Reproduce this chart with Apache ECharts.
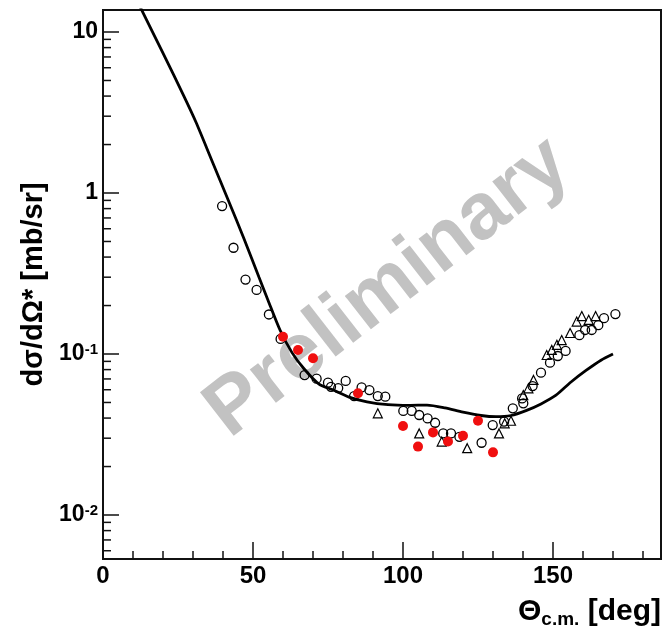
<!DOCTYPE html>
<html>
<head>
<meta charset="utf-8">
<script src="https://cdn.jsdelivr.net/npm/echarts@6/dist/echarts.min.js"></script>
<style>
  html, body { margin: 0; padding: 0; background: #fff; }
  #chart { width: 666px; height: 633px; }
</style>
</head>
<body>
<div id="chart"></div>
<script>
// theory curve
const curveX = [12, 20, 27, 31, 36, 42, 47, 52, 55, 59, 63, 67, 72, 77, 82, 88, 95, 102, 108, 114, 120, 126, 131, 136, 141, 146, 151, 156, 161, 166, 170]
const curveY = [14.8, 7.4, 3.98, 2.75, 1.64, 0.88, 0.52, 0.3, 0.216, 0.141, 0.102, 0.081, 0.065, 0.0595, 0.054, 0.0505, 0.0485, 0.048, 0.0482, 0.0463, 0.0435, 0.0415, 0.0408, 0.0415, 0.0445, 0.049, 0.0555, 0.067, 0.079, 0.0915, 0.1]

// open circles
const circX = [39.7, 43.5, 47.5, 51.2, 55.3, 59.2, 67.2, 71.2, 75, 76, 78.4, 80.9, 83.7, 86.2, 88.8, 91.6, 94.1, 100.1, 102.9, 105.4, 108.2, 110.7, 113.4, 116, 118.8, 126.2, 129.9, 133.7, 136.6, 139.7, 140.1, 143.2, 146, 149, 151.6, 154.2, 158.8, 160.7, 162.9, 165.1, 167, 170.8]
const circY = [0.83, 0.457, 0.29, 0.25, 0.176, 0.124, 0.074, 0.0703, 0.0664, 0.0625, 0.0614, 0.068, 0.0548, 0.062, 0.0597, 0.0548, 0.0543, 0.0443, 0.0443, 0.0418, 0.0398, 0.0374, 0.0321, 0.0321, 0.0306, 0.0281, 0.0362, 0.038, 0.046, 0.053, 0.0494, 0.0632, 0.0766, 0.0883, 0.0972, 0.1045, 0.131, 0.141, 0.141, 0.151, 0.167, 0.177]

// open triangles
const triX = [91.6, 105.4, 112.9, 121.4, 132, 133.9, 136, 140.1, 141.8, 143.5, 147.9, 149.6, 151.3, 152.9, 155.7, 157.9, 159.6, 161.9, 164.2]
const triY = [0.0428, 0.0321, 0.0286, 0.026, 0.0321, 0.0371, 0.0385, 0.0556, 0.0612, 0.069, 0.0986, 0.106, 0.114, 0.122, 0.135, 0.159, 0.172, 0.163, 0.172]

// red points
const redX = [60, 65, 70, 85, 100, 105, 110, 115, 120, 125, 130]
const redY = [0.128, 0.106, 0.094, 0.057, 0.0357, 0.0266, 0.0326, 0.0286, 0.0311, 0.0385, 0.0245]

// minor ticks
const xMinor = [10, 20, 30, 40, 60, 70, 80, 90, 110, 120, 130, 140, 160, 170, 180]
const yMinor = [0.006, 0.007, 0.008, 0.009, 0.02, 0.03, 0.04, 0.05, 0.06, 0.07, 0.08, 0.09,
  0.2, 0.3, 0.4, 0.5, 0.6, 0.7, 0.8, 0.9, 2, 3, 4, 5, 6, 7, 8, 9]

const font = "'Liberation Sans', Arial, Helvetica, sans-serif"
const zip = (xs, ys) => xs.map((x, i) => [x, ys[i]])

const chart = echarts.init(document.getElementById('chart'))

function tickItem(vertical) {
  return function (params, api) {
    const p = api.coord([api.value(0), api.value(1)])
    const len = 8
    return {
      type: 'line',
      shape: vertical
        ? { x1: p[0], y1: p[1], x2: p[0], y2: p[1] - len }
        : { x1: p[0], y1: p[1], x2: p[0] + len, y2: p[1] },
      style: { stroke: '#111', lineWidth: 1.5 }
    }
  }
}

const option = {
  animation: false,
  backgroundColor: '#fff',
  grid: {
    left: 103, right: 5, top: 10, bottom: 74,
    show: true, borderColor: '#111', borderWidth: 2
  },
  xAxis: {
    type: 'value',
    min: 0, max: 186, interval: 50,
    axisLine: { lineStyle: { color: '#111', width: 2 } },
    axisTick: { inside: true, length: 17, lineStyle: { color: '#111', width: 1.5 } },
    axisLabel: {
      color: '#000', fontFamily: font, fontWeight: 'bold', fontSize: 24,
      margin: 5, showMaxLabel: false
    },
    splitLine: { show: false }
  },
  yAxis: {
    type: 'log',
    min: 0.00533, max: 13.7,
    name: 'dσ/dΩ* [mb/sr]',
    nameLocation: 'middle',
    nameGap: 50,
    nameTextStyle: { color: '#000', fontFamily: font, fontWeight: 'bold', fontSize: 29 },
    axisLine: { lineStyle: { color: '#111', width: 2 } },
    axisTick: { inside: true, length: 16, lineStyle: { color: '#111', width: 1.5 } },
    axisLabel: {
      color: '#000', fontFamily: font, fontWeight: 'bold', fontSize: 23,
      margin: 5, showMinLabel: false, showMaxLabel: false,
      formatter: function (v) {
        const e = Math.round(Math.log10(v))
        if (e === 0) return '1'
        if (e === 1) return '10'
        return '10{sup|' + e + '}'
      },
      rich: {
        sup: { fontFamily: font, fontWeight: 'bold', fontSize: 15, verticalAlign: 'top', color: '#000' }
      }
    },
    splitLine: { show: false }
  },
  graphic: [
    {
      type: 'text',
      x: 388, y: 288,
      rotation: 0.66,
      z: 0,
      style: {
        text: 'Preliminary',
        fill: '#c2c2c2',
        font: "bold 80px 'Liberation Sans', Arial, sans-serif",
        textAlign: 'center',
        textVerticalAlign: 'middle'
      }
    },
    {
      type: 'text',
      x: 661, y: 612,
      style: {
        text: '{b|Θ}{s|c.m.}{b| [deg]}',
        textAlign: 'right',
        textVerticalAlign: 'middle',
        rich: {
          b: { fontFamily: font, fontWeight: 'bold', fontSize: 30, fill: '#000', lineHeight: 34 },
          s: { fontFamily: font, fontWeight: 'bold', fontSize: 19, fill: '#000', verticalAlign: 'bottom' }
        }
      }
    }
  ],
  series: [
    {
      type: 'custom',
      renderItem: tickItem(true),
      data: xMinor.map(x => [x, 0.00533]),
      silent: true, clip: false
    },
    {
      type: 'custom',
      renderItem: tickItem(false),
      data: yMinor.map(y => [0, y]),
      silent: true, clip: false
    },
    {
      type: 'scatter',
      data: zip(circX, circY),
      symbol: 'circle',
      symbolSize: 9,
      itemStyle: { color: 'rgba(255,255,255,0)', borderColor: '#000', borderWidth: 1.3, opacity: 1 },
      z: 3
    },
    {
      type: 'scatter',
      data: zip(triX, triY),
      symbol: 'triangle',
      symbolSize: 9,
      itemStyle: { color: 'rgba(255,255,255,0)', borderColor: '#000', borderWidth: 1.2, opacity: 1 },
      z: 3
    },
    {
      type: 'line',
      data: zip(curveX, curveY),
      smooth: 0.25,
      showSymbol: false,
      lineStyle: { color: '#000', width: 2.8 },
      z: 4
    },
    {
      type: 'scatter',
      data: zip(redX, redY),
      symbol: 'circle',
      symbolSize: 10,
      itemStyle: { color: '#f00f0f', opacity: 1 },
      z: 5
    }
  ]
}

chart.setOption(option)
</script>
</body>
</html>
